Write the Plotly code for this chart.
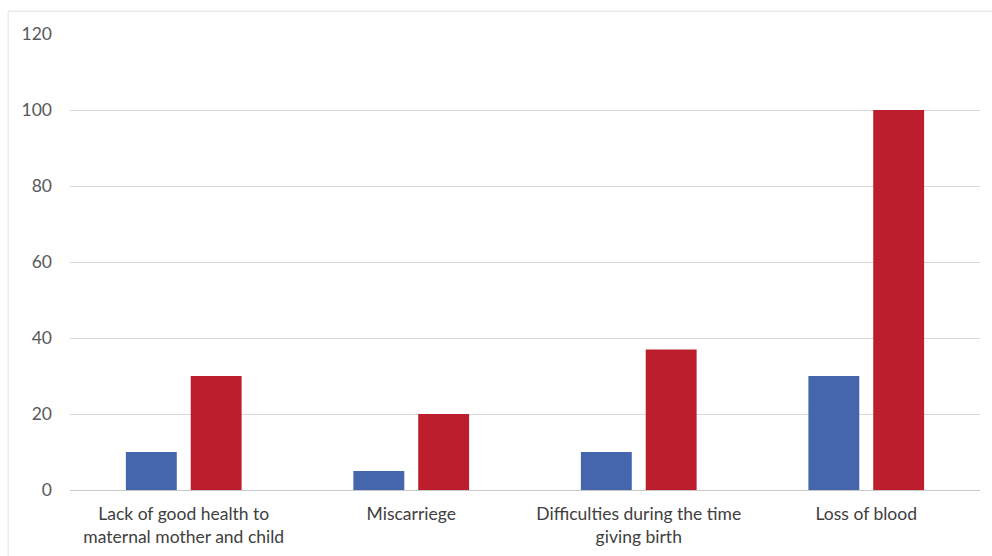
import plotly.graph_objects as go

categories = ["Lack of good health to<br>maternal mother and child", "Miscarriege",
              "Difficulties during the time<br>giving birth", "Loss of blood"]
series_a = [10, 5, 10, 30]
series_b = [30, 20, 37, 100]
tick_vals = [0, 20, 40, 60, 80, 100, 120]

fig = go.Figure()
fig.add_trace(go.Bar(x=categories, y=series_a, marker_color="#4565AD", marker_line_width=0, name="A"))
fig.add_trace(go.Bar(x=categories, y=series_b, marker_color="#BD1E2D", marker_line_width=0, name="B"))

fig.update_layout(
    width=992, height=556,
    margin=dict(l=70, r=12, t=34, b=66),
    paper_bgcolor="white", plot_bgcolor="white",
    barmode="group", bargap=0.43, bargroupgap=0.215,
    showlegend=False,
    font=dict(family="Lato, Open Sans, sans-serif", size=17, color="#595959"),
)
fig.update_yaxes(range=[0, 120], tickvals=tick_vals, showgrid=True, gridcolor="#D9D9D9",
                 gridwidth=1, zeroline=False, ticks="", ticklen=0, ticklabelstandoff=17,
                 automargin=False,
                 tickfont=dict(size=17.5, color="#595959"))
fig.update_xaxes(showline=True, linecolor="#C8C8C8", linewidth=1, ticks="",
                 ticklabelstandoff=8, automargin=False,
                 tickfont=dict(size=17.5, color="#404040"))
fig.add_shape(type="rect", xref="paper", yref="paper", x0=-0.068, x1=1.2, y0=-0.3, y1=1.05,
              line=dict(color="#E0E0E0", width=1), fillcolor="rgba(0,0,0,0)", layer="below")

fig.write_html("out.html")
